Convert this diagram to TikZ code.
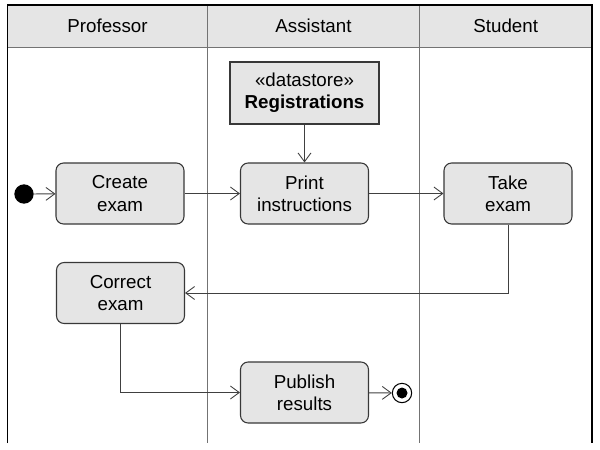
\documentclass[tikz,border=0pt]{standalone}
\usepackage{fontspec}
\setmainfont{Liberation Sans}
\usepackage{tikz}
\usetikzlibrary{arrows.meta}

\begin{document}
\begin{tikzpicture}[x=0.03cm,y=-0.03cm,
                action/.style={draw=black!78,line width=0.9pt,fill=black!10,rounded corners=6.5pt,
                        minimum width=3.84cm,minimum height=1.83cm,align=center,inner sep=0pt},
                store/.style={action,rounded corners=0pt,minimum width=4.47cm,minimum height=1.86cm},
                flow/.style={draw=black!75,line width=0.75pt,-{Straight Barb[length=7.5pt,width=11pt]}},
                lane/.style={draw=black!55,line width=1.3pt}]
                \tikzstyle{every node}+=[font=\fontsize{16}{19}\selectfont]
                \useasboundingbox (0,0) rectangle (600,449);
                \fill [black!10] (7.5,5) rectangle (592,47.5);
                \draw [lane] (7.5,47.5) -- (592,47.5);
                \draw [lane] (207.5,5) -- (207.5,443);
                \draw [lane] (419.5,5) -- (419.5,443);
                \draw [black,line width=0.9pt] (7.5,443) -- (7.5,5) -- (592,5) -- (592,443);
                \node (prof) at (107.5,25.5) {Professor};
                \node (asst) at (313.5,25.5) {Assistant};
                \node (stud) at (505.7,25.5) {Student};
                \node [circle,fill=black,minimum size=0.58cm,inner sep=0pt] (start) at (24,194) {};
                \node [action] (create) at (120,193.5) {Create\\exam};
                \node [store] (regs) at (304.5,93) {\guillemotleft datastore\guillemotright\\\textbf{Registrations}};
                \node [action] (print) at (304.5,193.5) {Print\\instructions};
                \node [action] (take) at (508,193.5) {Take\\exam};
                \node [action] (correct) at (120.5,293) {Correct\\exam};
                \node [action] (publish) at (304.5,392.5) {Publish\\results};
                \node [circle,draw=black,line width=0.9pt,fill=white,minimum size=0.58cm,inner sep=0pt] (stop) at (402,393) {};
                \fill [black] (stop.center) circle (5.5);
                \draw [flow] (start) -- (create);
                \draw [flow] (create) -- (print);
                \draw [flow] (regs) -- (print);
                \draw [flow] (print) -- (take);
                \draw [flow] (take.south) |- (correct.east);
                \draw [flow] (correct.south) |- (publish.west);
                \draw [flow] (publish) -- (stop);
            \end{tikzpicture}
\end{document}
